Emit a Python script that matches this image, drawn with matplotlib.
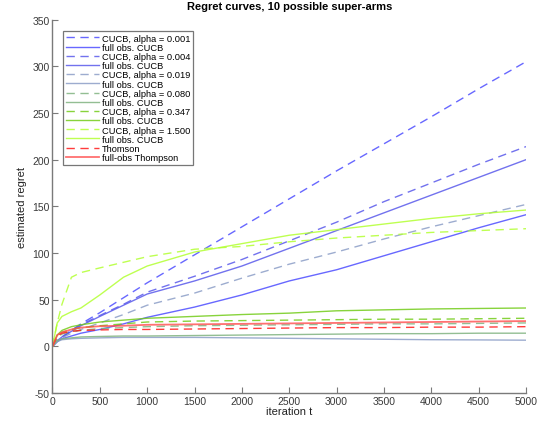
import matplotlib
matplotlib.use("Agg")
import matplotlib.pyplot as plt

plt.rcParams['font.family'] = ['Liberation Sans', 'DejaVu Sans']
plt.rcParams['lines.scale_dashes'] = False
plt.rcParams['axes.unicode_minus'] = False

t = [0, 50, 100, 200, 300, 500, 750, 1000, 1500, 2000, 2500, 3000, 3500, 4000, 4500, 5000]

cucb_0001 = [0, 5, 9, 17, 24, 36, 52, 68, 98, 128, 158, 188, 217, 246, 276, 305]
full_0001 = [0, 5, 8, 11, 14, 18, 24, 31, 42, 55, 70, 82, 97, 112, 127, 141]
cucb_0004 = [0, 6, 10, 17, 23, 33, 45, 58, 75, 93, 113, 133, 155, 175, 195, 214]
full_0004 = [0, 6, 10, 16, 22, 32, 44, 56, 70, 86, 105, 124, 143, 162, 181, 200]
cucb_0019 = [0, 6, 9, 14, 18, 25, 34, 44, 57, 73, 88, 101, 115, 128, 140, 152]
full_0019 = [0, 5, 7, 8, 8.5, 9, 9.5, 9.5, 9.5, 9, 8.5, 8, 7.5, 7, 6.8, 6.5]
cucb_0080 = [0, 10, 13, 16, 17, 19, 20, 21, 22, 22.5, 23, 23.5, 24, 24, 24.5, 25]
full_0080 = [0, 6, 8, 9, 10, 10.5, 11, 11, 11.5, 12, 12.5, 13, 13.5, 13.5, 14, 14]
cucb_0347 = [0, 11, 15, 18, 20, 22, 24, 26, 27, 27.5, 28, 28.5, 29, 29, 29.5, 30]
full_0347 = [0, 12, 17, 21, 23, 26, 28, 30, 32, 34, 35.5, 38, 39, 40, 40.5, 41]
cucb_1500 = [0, 25, 45, 74, 79, 84, 90, 96, 104, 107, 112, 116, 119, 122, 124, 126]
full_1500 = [0, 25, 32, 37, 41, 55, 74, 86, 101, 110, 119, 125, 131, 137, 142, 146]
thom = [0, 11, 14, 16, 17, 17.5, 18, 18, 18.5, 19, 19.5, 20, 20, 20.5, 20.5, 21]
full_thom = [0, 12, 15, 18, 20, 21.5, 22, 23, 23.5, 24, 24.5, 25, 25.5, 26, 26.5, 27]

alphas = ["0.001", "0.004", "0.019", "0.080", "0.347", "1.500"]
cucb_series = [cucb_0001, cucb_0004, cucb_0019, cucb_0080, cucb_0347, cucb_1500]
full_series = [full_0001, full_0004, full_0019, full_0080, full_0347, full_1500]
colors = [(0.30, 0.30, 1.0), (0.35, 0.35, 0.92), (0.55, 0.62, 0.78),
          (0.50, 0.70, 0.50), (0.45, 0.80, 0.10), (0.70, 1.0, 0.20)]

fig = plt.figure(figsize=(5.44, 4.27), dpi=100)
ax = fig.add_axes([0.0965, 0.0775, 0.8705, 0.874])

dash = (6, 4)
for a, cs, fs, c in zip(alphas, cucb_series, full_series, colors):
    ax.plot(t, cs, color=c, lw=1.0, alpha=0.85, dashes=dash, label="CUCB, alpha = " + a)
    ax.plot(t, fs, color=c, lw=1.0, alpha=0.85, label="full obs. CUCB")
ax.plot(t, thom, color=(1.0, 0.1, 0.1), lw=1.0, alpha=0.85, dashes=dash, label="Thomson")
ax.plot(t, full_thom, color=(1.0, 0.3, 0.3), lw=1.3, alpha=0.8, label="full-obs Thompson")

ax.set_xlim(0, 5000)
ax.set_ylim(-50, 350)
ax.set_xticks(range(0, 5001, 500))
ax.set_yticks(range(-50, 351, 50))
for s in ['top', 'right']:
    ax.spines[s].set_visible(False)
for s in ['left', 'bottom']:
    ax.spines[s].set_color('#7a7a7a')
    ax.spines[s].set_linewidth(1.0)
ax.tick_params(direction='in', length=4, width=0.8, color='#7a7a7a',
               labelsize=7.5, labelcolor='#3a3a3a', pad=2)

ax.set_title("Regret curves, 10 possible super-arms", fontsize=8, fontweight='bold', pad=8)
ax.set_xlabel("iteration t", fontsize=8, color='#222222', labelpad=0)
ax.set_ylabel("estimated regret", fontsize=8, color='#222222', labelpad=4)

leg = ax.legend(loc='upper left', bbox_to_anchor=(0.022, 0.97), fontsize=6.7,
                frameon=True, fancybox=False, handlelength=3.6, handletextpad=0.3,
                labelspacing=0.02, borderpad=0.3, borderaxespad=0.0)
leg.get_frame().set_edgecolor('#555555')
leg.get_frame().set_linewidth(0.9)

fig.savefig("out.png", dpi=100)
